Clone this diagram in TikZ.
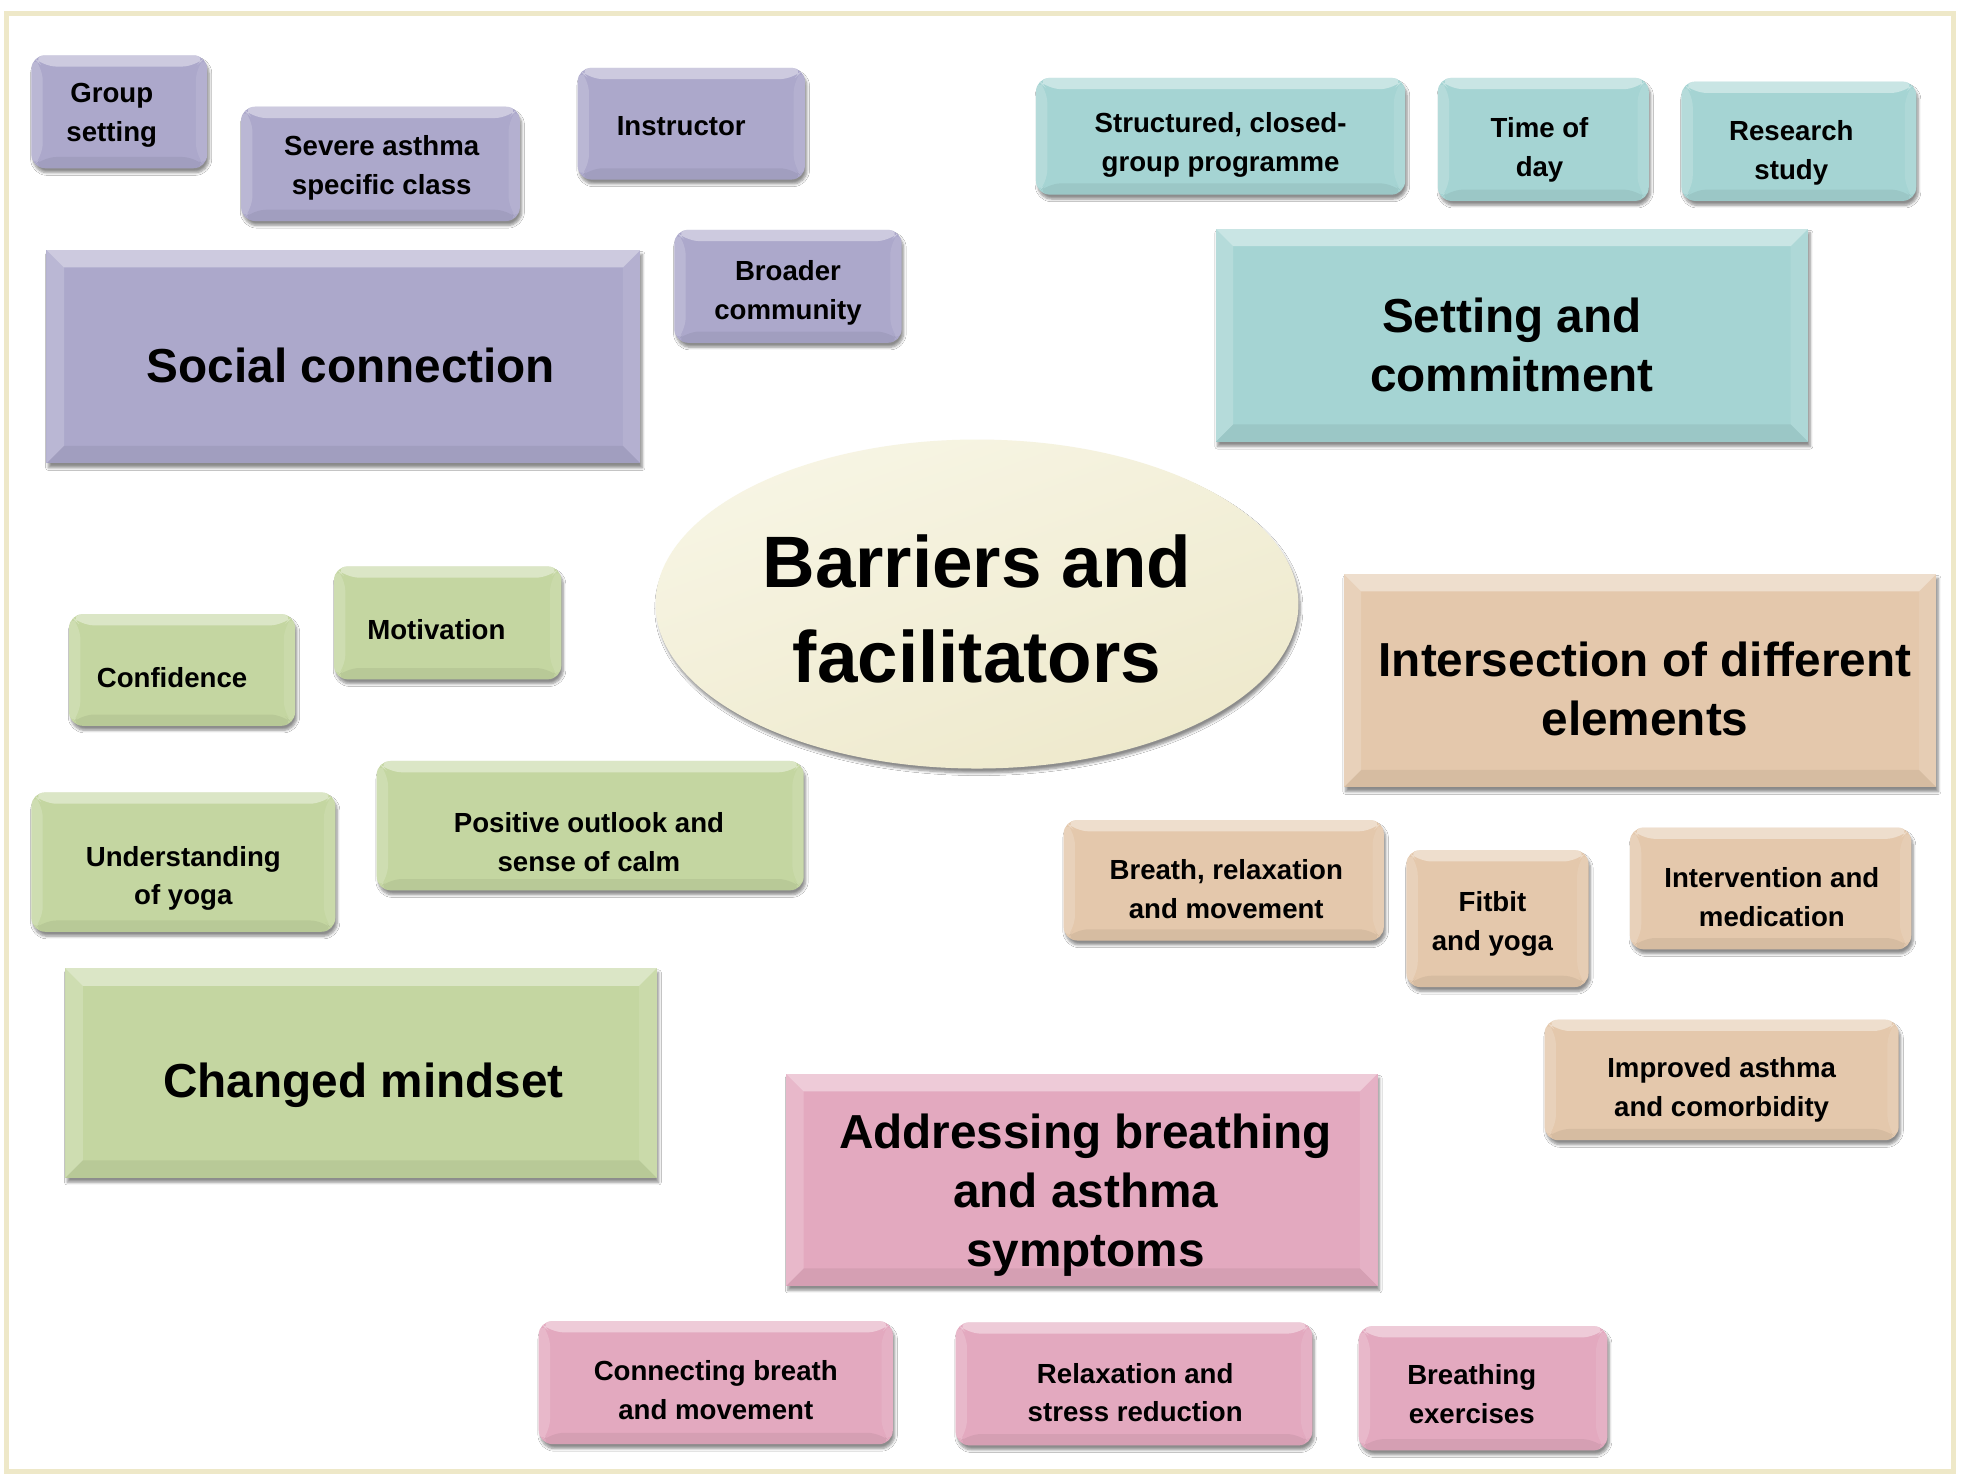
\documentclass[tikz,border=0pt]{standalone}
\usepackage{fontspec}
\setmainfont{Liberation Sans}
\usetikzlibrary{shapes.geometric,shadows.blur,calc}
\definecolor{purp}{HTML}{ACA8CB}
\definecolor{teal2}{HTML}{A5D4D3}
\definecolor{grn}{HTML}{C4D6A1}
\definecolor{tan2}{HTML}{E4C8AC}
\definecolor{pnk}{HTML}{E3A9BF}
\definecolor{ellA}{HTML}{F7F5E4}
\definecolor{ellB}{HTML}{EEE9CC}
\definecolor{framecol}{HTML}{EEE8C8}
\tikzset{
  bev/.style={path picture={
    \coordinate (bnw) at (path picture bounding box.north west);
    \coordinate (bne) at (path picture bounding box.north east);
    \coordinate (bsw) at (path picture bounding box.south west);
    \coordinate (bse) at (path picture bounding box.south east);
    \fill[white,opacity=0.40] (bnw) -- (bne) -- ($(bne)+(-#1,-#1)$) -- ($(bnw)+(#1,-#1)$) -- cycle;
    \fill[white,opacity=0.18] (bnw) -- (bsw) -- ($(bsw)+(#1,#1)$) -- ($(bnw)+(#1,-#1)$) -- cycle;
    \fill[black,opacity=0.06] (bsw) -- (bse) -- ($(bse)+(-#1,#1)$) -- ($(bsw)+(#1,#1)$) -- cycle;
    \fill[white,opacity=0.10] (bne) -- (bse) -- ($(bse)+(-#1,#1)$) -- ($(bne)+(-#1,-#1)$) -- cycle;
  }},
  shad/.style={blur shadow={shadow xshift=1.5pt, shadow yshift=-3.5pt, shadow blur steps=6, shadow opacity=45}},
  sbox/.style={rounded corners=11pt, fill=#1, inner sep=0pt, shad, bev=9pt},
  bbox/.style={fill=#1, inner sep=0pt, shad, bev=14pt},
  stxt/.style={inner sep=0pt, align=center, font=\bfseries\fontsize{22}{31}\selectfont},
  btxt/.style={inner sep=0pt, align=center, font=\bfseries\fontsize{38}{47}\selectfont},
}
% name, box style, text style, cx, cy, w, h, offset, text
\newcommand\bx[9]{%
  \node[#2, minimum width=#6pt, minimum height=#7pt] (#1) at (#4,#5) {};
  \node[#3] (#1-t) at ($(#1.center)+(#8)$) {#9};}
\begin{document}
\begin{tikzpicture}[x=1pt,y=-1pt]
\useasboundingbox (0,0) rectangle (1568,1176);
\fill[white] (0,0) rectangle (1568,1176);
\draw[framecol, line width=4pt] (5,11) rectangle (1556,1172);

% purple
\bx{grp}{sbox=purp}{stxt}{95}{89}{140}{90}{-6,3}{Group\\setting}
\bx{sev}{sbox=purp}{stxt}{303}{130.5}{222}{91}{1,3}{Severe asthma\\specific class}
\bx{ins}{sbox=purp}{stxt}{550.5}{98.5}{181}{89}{-8,2}{Instructor}
\bx{bro}{sbox=purp}{stxt}{627.5}{228}{181}{90}{0,5}{Broader\\community}
\bx{soc}{bbox=purp}{btxt}{273.5}{284}{473}{170}{6,7}{Social connection}

% teal
\bx{str}{sbox=teal2}{stxt}{972}{108.5}{294}{93}{0,7}{Structured, closed-\\group programme}
\bx{tim}{sbox=teal2}{stxt}{1229}{111}{168}{98}{-3,8}{Time of\\day}
\bx{res}{sbox=teal2}{stxt}{1432.5}{112.5}{187}{95}{-6,9}{Research\\study}
\bx{set}{bbox=teal2}{btxt}{1204}{267}{472}{170}{0,8}{Setting and\\commitment}

% centre
\node[ellipse, minimum width=512pt, minimum height=262pt, inner sep=0pt, top color=ellA, bottom color=ellB, shading angle=20, shad] (bf) at (778,481) {};
\node[inner sep=0pt, align=center, font=\bfseries\fontsize{58}{75}\selectfont] (bf-t) at ($(bf.center)+(0,4)$) {Barriers and\\facilitators};

% green
\bx{con}{sbox=grn}{stxt}{145}{533.5}{180}{89}{-8,6}{Confidence}
\bx{mot}{sbox=grn}{stxt}{356.5}{496}{181}{90}{-9,5}{Motivation}
\bx{und}{sbox=grn}{stxt}{146}{686.5}{242}{111}{0,13}{Understanding\\of yoga}
\bx{pos}{sbox=grn}{stxt}{470}{657.5}{340}{103}{-1,13}{Positive outlook and\\sense of calm}
\bx{chg}{bbox=grn}{btxt}{287.5}{854.5}{471}{167}{2,10}{Changed mindset}

% tan
\bx{int}{bbox=tan2}{btxt}{1306}{542}{472}{170}{4,7}{Intersection of different\\elements}
\bx{bre}{sbox=tan2}{stxt}{974.5}{701}{255}{96}{2,7}{Breath, relaxation\\and movement}
\bx{fit}{sbox=tan2}{stxt}{1192.5}{731.5}{145}{109}{-4,4}{Fitbit\\and yoga}
\bx{inv}{sbox=tan2}{stxt}{1410}{707.5}{224}{97}{1,7}{Intervention and\\medication}
\bx{imp}{sbox=tan2}{stxt}{1371}{860}{282}{96}{0,8}{Improved asthma\\and comorbidity}

% pink
\bx{add}{bbox=pnk}{btxt}{861.5}{939.5}{471}{169}{3,12}{Addressing breathing\\and asthma\\symptoms}
\bx{cbm}{sbox=pnk}{stxt}{570}{1101}{282}{98}{0,6}{Connecting breath\\and movement}
\bx{rsr}{sbox=pnk}{stxt}{903}{1102}{284}{98}{1,7}{Relaxation and\\stress reduction}
\bx{bex}{sbox=pnk}{stxt}{1181}{1105.5}{198}{99}{-9,5}{Breathing\\exercises}
\end{tikzpicture}
\end{document}
